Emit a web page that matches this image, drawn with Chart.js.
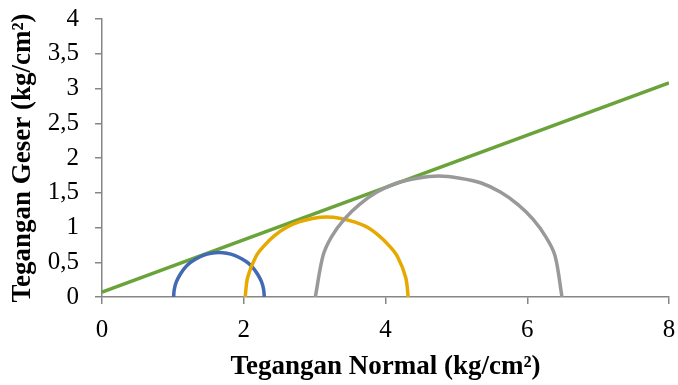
<!DOCTYPE html>
<html>
<head>
<meta charset="utf-8">
<script src="https://cdn.jsdelivr.net/npm/chart.js@4/dist/chart.umd.min.js"></script>
<style>
  html, body { margin: 0; padding: 0; background: #ffffff; }
  #wrap { width: 678px; height: 385px; }
</style>
</head>
<body>
<div id="wrap"><canvas id="c" width="678" height="385"></canvas></div>
<script>
// Mohr circles (normal stress vs shear stress) and the failure envelope.
const circle1X = [1.01, 1.02, 1.05, 1.10, 1.16, 1.24, 1.33, 1.43, 1.54, 1.65, 1.76, 1.87, 1.97, 2.06, 2.14, 2.20, 2.25, 2.28, 2.29];
const circle1Y = [0, 0.11, 0.22, 0.32, 0.41, 0.49, 0.55, 0.60, 0.63, 0.64, 0.63, 0.60, 0.55, 0.49, 0.41, 0.32, 0.22, 0.11, 0];

const circle2X = [2.02, 2.055, 2.17, 2.29, 2.43, 2.60, 2.78, 2.97, 3.17, 3.37, 3.56, 3.75, 3.91, 4.05, 4.17, 4.285, 4.32];
const circle2Y = [0, 0.28, 0.58, 0.74, 0.88, 1.00, 1.08, 1.13, 1.15, 1.13, 1.08, 1.00, 0.88, 0.74, 0.58, 0.28, 0];

const circle3X = [3.01, 3.12, 3.24, 3.42, 3.63, 3.88, 4.16, 4.45, 4.75, 5.05, 5.35, 5.62, 5.87, 6.08, 6.26, 6.39, 6.49];
const circle3Y = [0, 0.60, 0.87, 1.12, 1.33, 1.51, 1.64, 1.71, 1.74, 1.71, 1.64, 1.51, 1.33, 1.12, 0.87, 0.60, 0];

const envelopeX = [0, 8];
const envelopeY = [0.07, 3.08];

const xTickLabels = ['0', '2', '4', '6', '8'];
const yTickLabels = ['0', '0,5', '1', '1,5', '2', '2,5', '3', '3,5', '4'];

const toPoints = (xs, ys) => xs.map((x, i) => ({ x: x, y: ys[i] }));

const AXIS_GREY = '#868686';
const SERIF = "'Liberation Serif', 'Times New Roman', serif";

const lineStyle = (color) => ({
  borderColor: color,
  backgroundColor: color,
  borderWidth: 3.5,
  pointRadius: 0,
  pointHoverRadius: 0,
  showLine: true,
  fill: false,
  tension: 0.34
});

// keep the plot frame fixed regardless of label overhang
const noOverhang = (scale) => {
  scale.paddingTop = 0;
  scale.paddingBottom = 0;
  scale.paddingLeft = 0;
  scale.paddingRight = 0;
};

new Chart(document.getElementById('c'), {
  type: 'scatter',
  data: {
    datasets: [
      Object.assign({ label: 'Lingkaran 3', data: toPoints(circle3X, circle3Y) }, lineStyle('#999999')),
      Object.assign({ label: 'Lingkaran 2', data: toPoints(circle2X, circle2Y) }, lineStyle('#E6A900')),
      Object.assign({ label: 'Lingkaran 1', data: toPoints(circle1X, circle1Y) }, lineStyle('#4169B4')),
      Object.assign({ label: 'Garis keruntuhan', data: toPoints(envelopeX, envelopeY) }, lineStyle('#6AA33A'), { tension: 0 })
    ]
  },
  options: {
    responsive: false,
    animation: false,
    devicePixelRatio: 1,
    layout: { padding: { left: 0, right: 9, top: 19, bottom: 0 } },
    plugins: {
      legend: { display: false },
      tooltip: { enabled: false }
    },
    scales: {
      x: {
        type: 'linear',
        min: 0,
        max: 8,
        afterFit: (scale) => { scale.height = 88; noOverhang(scale); },
        afterBuildTicks: (scale) => {
          scale.ticks = xTickLabels.map((t, i) => ({ value: i * 2 }));
        },
        ticks: {
          callback: (v, i) => xTickLabels[i],
          color: '#000000',
          font: { family: SERIF, size: 25 },
          padding: 11,
          maxRotation: 0
        },
        grid: {
          display: true,
          drawOnChartArea: false,
          drawTicks: true,
          tickLength: 7,
          color: AXIS_GREY,
          lineWidth: 1.5
        },
        border: { display: true, color: AXIS_GREY, width: 1.5 },
        title: {
          display: true,
          text: 'Tegangan Normal (kg/cm²)',
          color: '#000000',
          font: { family: SERIF, size: 27, weight: 'bold' },
          padding: { top: 0, bottom: 2 }
        }
      },
      y: {
        type: 'linear',
        min: 0,
        max: 4,
        afterFit: (scale) => { scale.width = 102; noOverhang(scale); },
        afterBuildTicks: (scale) => {
          scale.ticks = yTickLabels.map((t, i) => ({ value: i * 0.5 }));
        },
        ticks: {
          callback: (v, i) => yTickLabels[i],
          color: '#000000',
          font: { family: SERIF, size: 25 },
          padding: 16
        },
        grid: {
          display: true,
          drawOnChartArea: false,
          drawTicks: true,
          tickLength: 7,
          color: AXIS_GREY,
          lineWidth: 1.5
        },
        border: { display: true, color: AXIS_GREY, width: 1.5 },
        title: {
          display: true,
          text: 'Tegangan Geser (kg/cm²)',
          color: '#000000',
          font: { family: SERIF, size: 27, weight: 'bold' },
          padding: { top: 7, bottom: 0 }
        }
      }
    }
  }
});
</script>
</body>
</html>
